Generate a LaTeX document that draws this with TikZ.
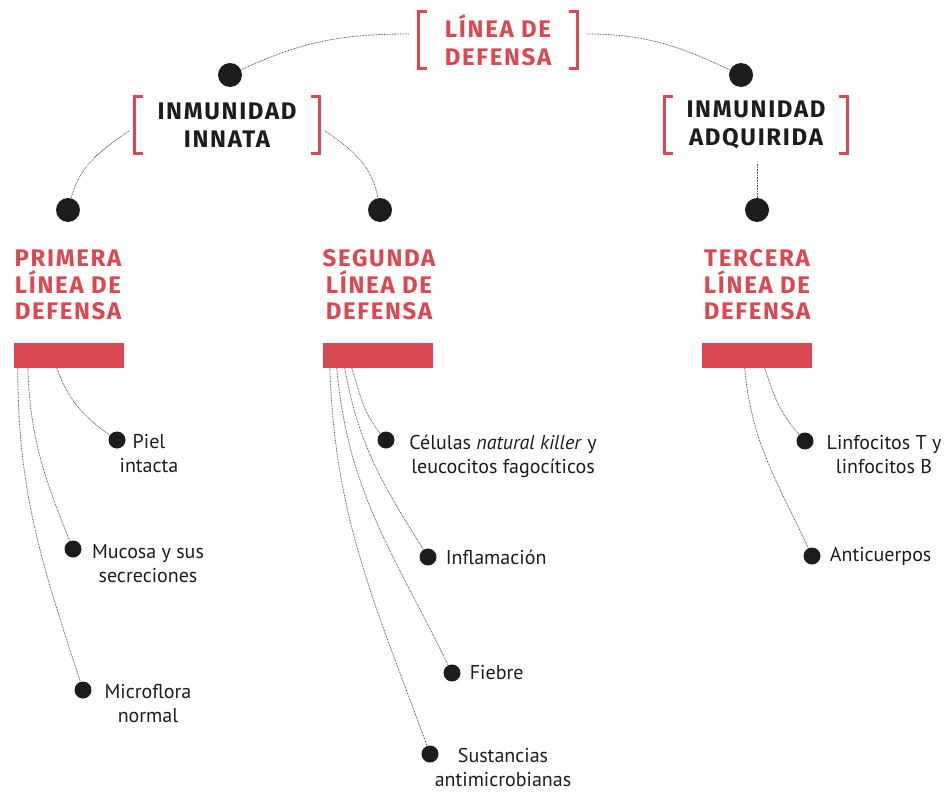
\documentclass[tikz,border=0pt]{standalone}
\usepackage{fontspec}
\setmainfont{PT Sans}
\newfontfamily\headfont[LetterSpace=7]{Fira Sans}
\usetikzlibrary{calc}
\definecolor{rojo}{RGB}{218,72,82}
\definecolor{tinta}{RGB}{28,28,28}
\begin{document}
\begin{tikzpicture}[x=1pt,y=-1pt,
  head/.style={font=\headfont\fontsize{24}{26.5}\selectfont\bfseries, text=rojo, align=center, inner sep=0pt},
  blackhead/.style={font=\headfont\fontsize{24}{27.5}\selectfont\bfseries, text=tinta, align=center, inner sep=0pt},
  bigdot/.style={circle, fill=tinta, minimum size=24pt, inner sep=0pt},
  smalldot/.style={circle, fill=tinta, minimum size=17pt, inner sep=0pt},
  bar/.style={fill=rojo, minimum width=110pt, minimum height=25pt, inner sep=0pt},
  item/.style={font=\fontsize{20}{24}\selectfont, text=tinta, align=center, inner sep=0pt},
  link/.style={dash pattern=on 0.8pt off 0.8pt, line width=0.8pt, draw=black!65},
  brk/.style={draw=rojo, line width=3pt},
]
\useasboundingbox (0,0) rectangle (947,792);

% bracketed titles
\node[blackhead, text=rojo, minimum width=158pt, minimum height=56pt] (top) at (498,40) {LÍNEA DE\\DEFENSA};
\node[blackhead, minimum width=184pt, minimum height=57pt] (innata) at (227,125) {INMUNIDAD\\INNATA};
\node[blackhead, minimum width=182pt, minimum height=57pt] (adq) at (756,125) {INMUNIDAD\\ADQUIRIDA};
\foreach \n in {top,innata,adq}{
  \draw[brk] ($(\n.north west)+(8,0)$) -- (\n.north west) -- (\n.south west) -- ++(8,0);
  \draw[brk] ($(\n.north east)+(-8,0)$) -- (\n.north east) -- (\n.south east) -- ++(-8,0);
}

% big dots
\node[bigdot] (dA) at (230,75) {};
\node[bigdot] (dB) at (741,75) {};
\node[bigdot] (dC) at (68,210) {};
\node[bigdot] (dD) at (380,210) {};
\node[bigdot] (dE) at (757,210) {};

\draw[link] ($(top.west)+(-10,-6)$) to[out=180,in=25] (dA);
\draw[link] ($(top.east)+(10,-6)$) to[out=0,in=155] (dB);
\draw[link] ($(innata.west)+(-6,6)$) to[out=215,in=75] (dC);
\draw[link] ($(innata.east)+(6,6)$) to[out=-35,in=100] (dD);
\draw[link] ($(adq.south)+(1,10)$) -- (dE);

% headings and bars
\node[head] (h1) at (68,285) {PRIMERA\\LÍNEA DE\\DEFENSA};
\node[head] (h2) at (379,285) {SEGUNDA\\LÍNEA DE\\DEFENSA};
\node[head] (h3) at (757,285) {TERCERA\\LÍNEA DE\\DEFENSA};
\node[bar] (r1) at (69,355.5) {};
\node[bar] (r2) at (378,355.5) {};
\node[bar] (r3) at (757,355.5) {};

% item dots
\node[smalldot] (p1) at (117,440) {};
\node[smalldot] (p2) at (73,549) {};
\node[smalldot] (p3) at (83,690) {};
\node[smalldot] (s1) at (386,440) {};
\node[smalldot] (s2) at (428,557) {};
\node[smalldot] (s3) at (452,673) {};
\node[smalldot] (s4) at (430,754) {};
\node[smalldot] (t1) at (805,441) {};
\node[smalldot] (t2) at (812,556) {};

% item texts
\node[item, anchor=north] (tp1) at (149,434) {Piel\\intacta};
\node[item, anchor=north] (tp2) at (148,544) {Mucosa y sus\\secreciones};
\node[item, anchor=north] (tp3) at (148,684) {Microflora\\normal};
\node[item, anchor=north] (ts1) at (503,435) {Células \textit{natural killer} y\\leucocitos fagocíticos};
\node[item, anchor=west] (ts2) at ($(s2.east)+(9,0)$) {Inflamación};
\node[item, anchor=west] (ts3) at ($(s3.east)+(9,0)$) {Fiebre};
\node[item, anchor=north] (ts4) at (503,748) {Sustancias\\antimicrobianas};
\node[item, anchor=north] (tt1) at (884,435) {Linfocitos T y\\linfocitos B};
\node[item, anchor=west] (tt2) at ($(t2.east)+(9,0)$) {Anticuerpos};

% connectors from bars
\draw[link] ($(r1.south west)+(43,0)$) to[out=-70,in=145] (p1);
\draw[link] ($(r1.south west)+(14,0)$) to[out=-88,in=112] (p2);
\draw[link] ($(r1.south west)+(4,0)$) to[out=-90,in=108] (p3);
\draw[link] ($(r2.south west)+(29,0)$) to[out=-72,in=130] (s1);
\draw[link] ($(r2.south west)+(22,0)$) to[out=-80,in=122] (s2);
\draw[link] ($(r2.south west)+(14,0)$) to[out=-85,in=116] (s3);
\draw[link] ($(r2.south west)+(7,0)$) to[out=-88,in=110] (s4);
\draw[link] ($(r3.south west)+(63,0)$) to[out=-72,in=132] (t1);
\draw[link] ($(r3.south west)+(43,0)$) to[out=-85,in=115] (t2);
\end{tikzpicture}
\end{document}
